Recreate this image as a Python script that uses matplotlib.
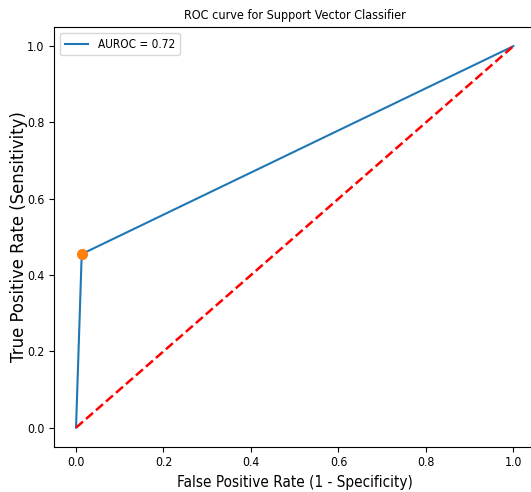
import matplotlib
matplotlib.use("Agg")
import matplotlib.pyplot as plt

# ROC-Punkte des SVC
fpr = [0.0, 0.013, 1.0]
tpr = [0.0, 0.455, 1.0]
auroc = 0.72

# Schwellenwert-Punkt
thr_fpr = [0.013]
thr_tpr = [0.455]

plt.rcParams["font.stretch"] = "condensed"

fig = plt.figure(figsize=(5.31, 4.92), dpi=100)
ax = fig.add_axes([0.102, 0.092, 0.906, 0.853])

ax.plot(fpr, tpr, color="#1f77b4", linewidth=1.5, label=f"AUROC = {auroc}")
ax.plot(thr_fpr, thr_tpr, "o", color="#ff7f0e", markersize=7)
ax.plot([0, 1], [0, 1], "r--", linewidth=1.8)

ax.set_xlim(-0.05, 1.05)
ax.set_ylim(-0.05, 1.05)
ax.tick_params(labelsize=8.8)
ax.set_xlabel("False Positive Rate (1 - Specificity)", fontsize=11)
ax.set_ylabel("True Positive Rate (Sensitivity)", fontsize=11.9,
              fontstretch="normal", labelpad=-0.5)
ax.set_title("ROC curve for Support Vector Classifier", fontsize=9)
ax.legend(loc="upper left", fontsize=8.5)

fig.savefig("out.png", dpi=100)
